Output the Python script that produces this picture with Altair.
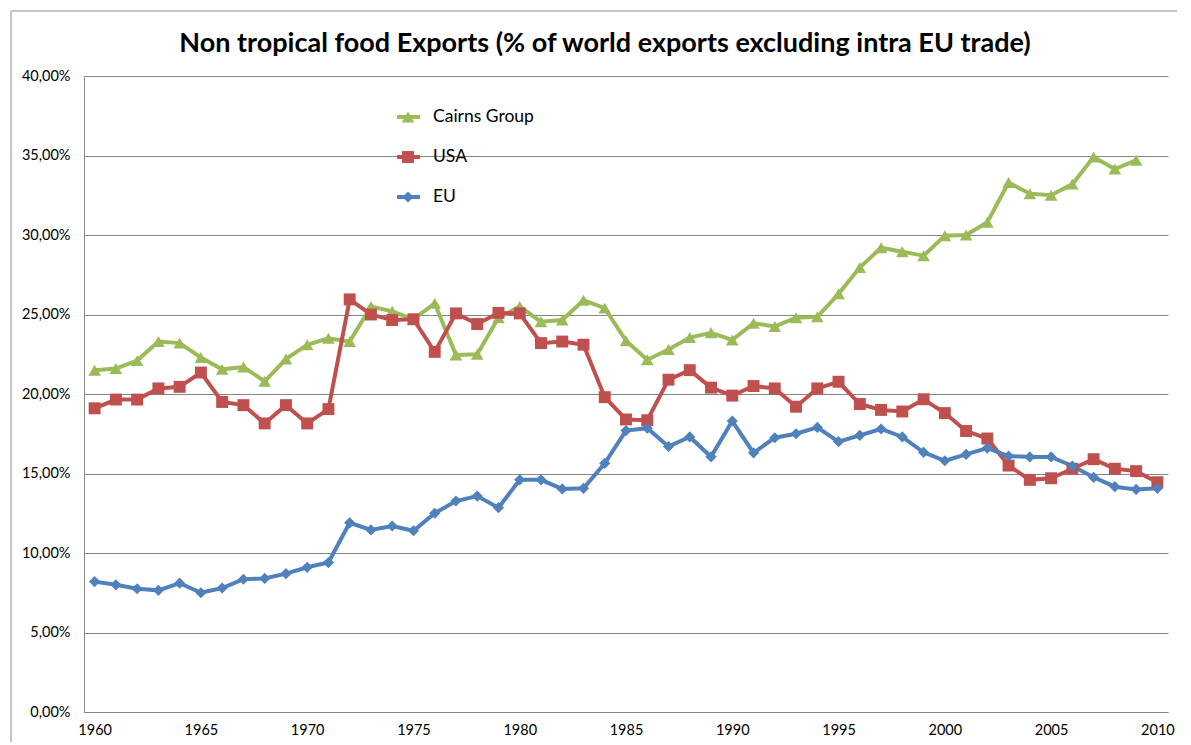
import altair as alt
import pandas as pd

years = list(range(1960, 2011))

cairns = [21.5, 21.6, 22.1, 23.3, 23.2, 22.3, 21.55, 21.7, 20.8, 22.2,
          23.1, 23.5, 23.3, 25.5, 25.2, 24.7, 25.7, 22.45, 22.5, 24.8,
          25.5, 24.55, 24.65, 25.9, 25.4, 23.35, 22.15, 22.8, 23.55, 23.85,
          23.4, 24.45, 24.25, 24.8, 24.85, 26.3, 27.95, 29.2, 28.95, 28.7,
          29.95, 30.0, 30.8, 33.3, 32.6, 32.5, 33.2, 34.9, 34.15, 34.7,
          None]

usa = [19.1, 19.65, 19.65, 20.35, 20.45, 21.35, 19.5, 19.3, 18.15, 19.3,
       18.15, 19.05, 25.95, 25.0, 24.65, 24.7, 22.65, 25.07, 24.4, 25.1,
       25.07, 23.2, 23.3, 23.1, 19.8, 18.4, 18.35, 20.9, 21.5, 20.4,
       19.9, 20.5, 20.35, 19.2, 20.35, 20.77, 19.37, 19.0, 18.9, 19.67,
       18.8, 17.67, 17.2, 15.5, 14.6, 14.7, 15.3, 15.9, 15.3, 15.15,
       14.45]

eu = [8.2, 8.0, 7.75, 7.65, 8.1, 7.5, 7.8, 8.35, 8.4, 8.7,
      9.1, 9.4, 11.9, 11.45, 11.7, 11.4, 12.5, 13.27, 13.58, 12.85,
      14.6, 14.6, 14.03, 14.07, 15.64, 17.7, 17.85, 16.7, 17.3, 16.05,
      18.3, 16.3, 17.25, 17.5, 17.9, 17.0, 17.4, 17.8, 17.3, 16.33,
      15.8, 16.2, 16.6, 16.1, 16.04, 16.04, 15.47, 14.76, 14.17, 14.0,
      14.07]

series_names = ["Cairns Group", "USA", "EU"]
series_colors = ["#9BBB59", "#C0504D", "#4F81BD"]
series_shapes = ["triangle-up", "square", "diamond"]
x_tick_years = list(range(1960, 2011, 5))
y_ticks = list(range(0, 41, 5))

title_text = "Non tropical food Exports (% of world exports excluding intra EU trade)"

rows = []
for name, vals in zip(series_names, [cairns, usa, eu]):
    for yr, v in zip(years, vals):
        if v is not None:
            rows.append({"year": yr, "value": v, "series": name})
df = pd.DataFrame(rows)
legend_df = pd.DataFrame({"series": series_names})

FONT = "Lato"
GRID = "#868686"

color = alt.Color("series:N", scale=alt.Scale(domain=series_names, range=series_colors), legend=None)
shape = alt.Shape("series:N", scale=alt.Scale(domain=series_names, range=series_shapes), legend=None)
size = alt.Size("series:N", scale=alt.Scale(domain=series_names, range=[160, 125, 110]), legend=None)

x = alt.X("year:Q",
          scale=alt.Scale(domain=[1959.5, 2010.5], nice=False, zero=False),
          axis=alt.Axis(values=x_tick_years, format="d", title=None, grid=False,
                        ticks=False, labelPadding=18, labelBaseline="middle",
                        domainColor=GRID,
                        labelFontSize=14.5, labelFont=FONT, labelColor="#000"))
y = alt.Y("value:Q",
          scale=alt.Scale(domain=[0, 40], nice=False),
          axis=alt.Axis(values=y_ticks, title=None, ticks=False, labelPadding=14,
                        labelExpr="replace(format(datum.value, '.2f'), '.', ',') + '%'",
                        grid=True, gridColor=GRID, gridWidth=1, domainColor=GRID,
                        labelFontSize=14.5, labelFont=FONT, labelColor="#000"))

base = alt.Chart(df)
lines = base.mark_line(strokeWidth=4).encode(x=x, y=y, color=color, detail="series:N")
points = base.mark_point(filled=True, opacity=1).encode(x=x, y=y, color=color, shape=shape, size=size)
data_layer = alt.layer(lines, points)

legend_y = alt.Y("series:N",
                 scale=alt.Scale(type="point", domain=series_names, range=[41, 121], padding=0),
                 axis=None)
leg = alt.Chart(legend_df)
leg_rule = leg.mark_rule(strokeWidth=4).encode(
    x=alt.value(313), x2=alt.value(336), y=legend_y, color=color)
leg_pt = leg.mark_point(filled=True, opacity=1).encode(
    x=alt.value(324), y=legend_y, color=color, shape=shape, size=size)
leg_txt = leg.mark_text(align="left", baseline="middle", fontSize=17.5, font=FONT, color="#000").encode(
    x=alt.value(349), y=legend_y, text="series:N")
legend_layer = alt.layer(leg_rule, leg_pt, leg_txt)

title_mark = alt.Chart(pd.DataFrame({"t": [title_text]})).mark_text(
    align="center", baseline="alphabetic", fontSize=27, font=FONT, fontWeight="bold", color="#000"
).encode(x=alt.value(521), y=alt.value(-24), text="t:N")

frame_df = pd.DataFrame({"a": [0]})
border_left = alt.Chart(frame_df).mark_rule(stroke="#8c8c8c", strokeWidth=1).encode(
    x=alt.value(-73), y=alt.value(-65), y2=alt.value(900))
border_top = alt.Chart(frame_df).mark_rule(stroke="#8c8c8c", strokeWidth=1).encode(
    x=alt.value(-73), x2=alt.value(1300), y=alt.value(-65))

chart = alt.layer(border_left, border_top, title_mark, data_layer, legend_layer).resolve_scale(
    y="independent"
).properties(
    width=1084, height=636,
    autosize=alt.AutoSizeParams(type="none"),
    padding={"left": 76, "top": 68, "right": 9, "bottom": 30},
).configure_view(stroke=None)

chart.save("out.html", embed_options={"renderer": "svg", "actions": False})
